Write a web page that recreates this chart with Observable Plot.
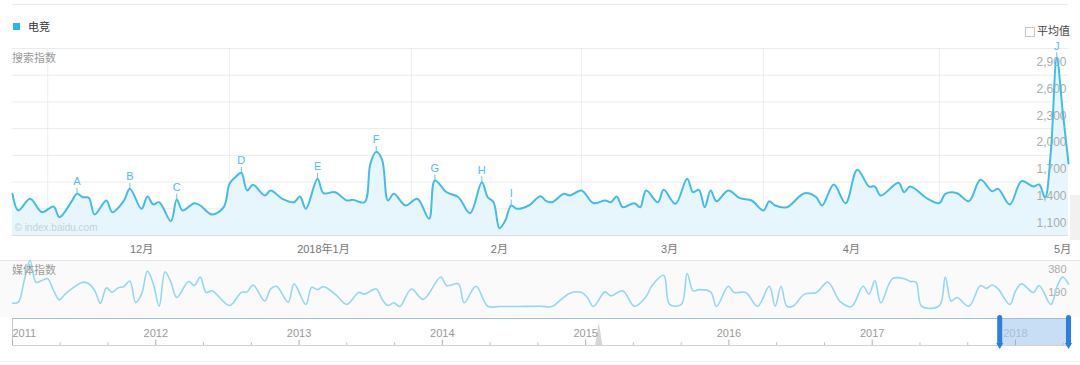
<!DOCTYPE html>
<html><head><meta charset="utf-8">
<script src="https://cdn.jsdelivr.net/npm/d3@7"></script>
<script src="https://cdn.jsdelivr.net/npm/@observablehq/plot@0.6"></script>
<style>
body{margin:0;background:#fff;}
#root{position:relative;width:1080px;height:365px;overflow:hidden;font-family:'Liberation Sans','Noto Sans CJK SC',sans-serif;}
.abs{position:absolute;}
#root svg{position:absolute;left:0;}
.lbl{position:absolute;font-size:11px;line-height:16px;white-space:nowrap;}
</style></head><body>
<div id="root">
  <div class="abs" style="left:12px;top:4px;width:1056px;height:1px;background:#e9e9e9"></div>
  <div class="abs" style="left:13px;top:23px;width:7px;height:7px;background:#2cb6ec"></div>
  <div class="lbl" style="left:28px;top:19px;color:#333">电竞</div>
  <div class="abs" style="left:1025px;top:27px;width:8px;height:8px;border:1px solid #c8c8c8"></div>
  <div class="lbl" style="left:1037px;top:23px;color:#444">平均值</div>
  <div class="abs" style="left:1070px;top:195px;width:10px;height:45px;background:#f1f1f1"></div>
  <div class="abs" style="left:0;top:260px;width:1080px;height:56px;background:#fafafa;border-top:1px solid #e6e6e6"></div>
  <div class="abs" style="left:0;top:361px;width:1080px;height:1px;background:#eef2f7"></div>
  <div id="main"></div>
  <div id="media"></div>
  <div id="nav"></div>
  <div class="lbl" style="left:12px;top:50px;color:#9a9a9a">搜索指数</div>
  <div class="lbl" style="left:12px;top:262px;color:#9a9a9a">媒体指数</div>
</div>
<script>
// ---- data (day 0 = 2017-11-09) ----
const searchDays = [0,1,3,5,7,8,10,11,12,13,14,16,17,19,20,22,23,24,25,27,28,29,31,32,34,36,37,38,39,40,41,43,44,46,48,49,50,52,53,55,57,58,60,61,62,63,64,65,67,69,71,72,74,76,78,80,81,82,83,84,85,86,88,90,91,92,94,95,97,99,101,102,103,104,106,107,108,110,111,113,115,116,117,118,119,120,122,124,126,128,129,130,132,135,137,138,140,142,144,146,147,148,151,152,153,156,158,159,161,163,165,167,168,170,172,174,175,176,177,178,179,180];
const searchValues = [1268,1081,1212,1062,1126,1006,1174,1268,1230,1223,
1036,1193,1062,1193,1324,1100,1238,1148,1174,961,
1204,1081,1163,1137,1036,1118,1381,1455,1504,1305,
1369,1249,1305,1212,1174,1238,1100,1437,1275,1286,
1193,1201,1174,1605,1740,1650,1193,1268,1137,1212,
988,1418,1286,1230,1050,1399,1230,1174,882,968,
1137,1100,1137,1241,1185,1174,1268,1249,1305,1163,
1193,1174,1238,1118,1163,1118,1305,1174,1313,1156,
1437,1286,1313,1118,1305,1185,1305,1219,1193,1081,
1185,1137,1118,1275,1230,1137,1373,1163,1538,1350,
1350,1249,1392,1286,1350,1212,1163,1268,1275,1185,
1425,1297,1324,1148,1410,1350,1373,1226,1750,2790,
2200,1609];

const mediaDays = [0,1,2,3,4,5,6,7,8,9,12,13,14,15,16,17,18,19,20,21,22,23,24,25,26,27,28,30,31,32,33,34,37,39,40,41,43,44,45,47,48,50,51,52,53,55,57,59,60,62,63,64,65,66,68,70,73,74,76,77,79,81,83,86,90,92,93,95,97,98,99,101,102,104,106,108,109,111,112,114,115,116,117,119,120,122,123,125,127,129,130,131,132,133,135,137,139,141,143,145,146,147,148,150,152,153,154,155,158,159,160,161,163,165,166,167,168,170,171,172,174,175,177,178,179,180];
const mediaValues = [27,36,215,380,200,215,229,132,55,105,
201,188,132,27,154,118,154,165,211,33,
102,292,187,2,287,201,74,207,173,244,
116,130,8,116,121,178,45,145,167,36,
187,17,159,139,164,102,17,116,102,145,
59,8,31,0,145,59,244,173,187,31,
167,2,0,0,2,0,36,110,116,74,
0,121,88,130,2,82,173,258,17,17,
273,130,139,121,0,167,116,116,2,167,
2,167,2,2,102,116,201,45,0,167,
102,215,31,230,230,207,201,0,8,244,
45,74,2,173,150,178,145,17,130,187,
116,173,17,159,244,185];

const letterNames = ["A","B","C","D","E","F","G","H","I","J"];
const letterDays = [11,20,28,39,52,62,72,80,85,178];

const monthTickDays = [22,53,83,112,143,179];
const monthLabels = ["12月","2018年1月","2月","3月","4月","5月"];
const gridDays = [6,37,68,97,128,158];
const yGridValues = [2900,2600,2300,2000,1700,1400,1100,800];
const yLabelValues = [2900,2600,2300,2000,1700,1400,1100];
const mediaLabelValues = [380,190];

const navYears = [2011,2012,2013,2014,2015,2016,2017,2018];
const navMinor = [2011.333,2011.667,2012.333,2012.667,2013.333,2013.667,2014.333,2014.667,2015.333,2015.667,2016.333,2016.667,2017.333,2017.667,2018.333];
const navT = [2011,2015.07,2015.095,2015.12,2018.37];
const navV = [0,0,0.85,0,0];
const selection = [2017.89, 2018.37];

// ---- build tables ----
const search = searchDays.map((d,i)=>({day:d, v:searchValues[i]}));
const media = mediaDays.map((d,i)=>({day:d, v:mediaValues[i]}));
const letters = letterNames.map((n,i)=>({name:n, day:letterDays[i], v:searchValues[searchDays.indexOf(letterDays[i])]}));
const months = monthTickDays.map((d,i)=>({day:d, label:monthLabels[i]}));
const nav = navT.map((t,i)=>({t, v:navV[i]}));
const fmt = d3.format(",");
const FONT = "'Liberation Sans','Noto Sans CJK SC',sans-serif";
const line = "#41bdea";

const main = Plot.plot({
  width:1080, height:258, marginTop:48, marginBottom:23, marginLeft:12, marginRight:12,
  x:{type:"linear", domain:[0,180], axis:null},
  y:{domain:[800,2900], axis:null},
  style:{background:"transparent", fontFamily:FONT, overflow:"visible"},
  marks:[
    Plot.ruleX(gridDays, {stroke:"#efefef"}),
    Plot.ruleY(yGridValues, {stroke:"#ececec"}),
    Plot.areaY(search, {x:"day", y1:800, y2:"v", curve:"catmull-rom", fill:"#e7f6fd"}),
    Plot.ruleY([800], {stroke:"#dcdcdc"}),
    Plot.text(["© index.baidu.com"], {frameAnchor:"bottom-left", dx:2, dy:-5, fill:"#c6d0d9", fontSize:10, textAnchor:"start"}),
    Plot.text(yLabelValues, {x:180, y:d=>d, text:d=>fmt(d), textAnchor:"end", dx:-2, dy:14, fill:"#ababab", fontSize:12}),
    Plot.lineY(search, {x:"day", y:"v", curve:"catmull-rom", stroke:line, strokeWidth:2}),
    Plot.ruleX(letters, {x:"day", y1:"v", y2:d=>d.v+60, stroke:"#5cc6ec"}),
    Plot.text(letters, {x:"day", y:"v", text:"name", dy:-12, fill:"#4fbfe8", fontSize:11}),
    Plot.text(months, {x:"day", y:800, text:"label", dy:14, fill:"#777", fontSize:11})
  ]
});
main.style.top = "0px";
document.getElementById("main").appendChild(main);

const med = Plot.plot({
  width:1080, height:56, marginTop:2, marginBottom:8, marginLeft:12, marginRight:12,
  x:{type:"linear", domain:[0,180], axis:null},
  y:{domain:[0,380], axis:null},
  style:{background:"transparent", fontFamily:FONT, overflow:"visible"},
  marks:[
    Plot.text(mediaLabelValues, {x:180, y:d=>d, text:d=>String(d), textAnchor:"end", dx:-2, dy:9, fill:"#ababab", fontSize:11}),
    Plot.lineY(media, {x:"day", y:"v", curve:"catmull-rom", stroke:"#94d8f0", strokeWidth:1.6})
  ]
});
med.style.top = "258px";
document.getElementById("media").appendChild(med);

const nv = Plot.plot({
  width:1080, height:51, marginTop:4, marginBottom:20, marginLeft:12, marginRight:12,
  x:{type:"linear", domain:[2011,2018.37], axis:null},
  y:{domain:[0,1], axis:null},
  style:{background:"transparent", fontFamily:FONT, overflow:"visible"},
  marks:[
    Plot.rect([selection], {x1:d=>d[0], x2:d=>d[1], y1:0, y2:1, fill:"#c8def5"}),
    Plot.areaY(nav, {x:"t", y:"v", fill:"#d6d6d6"}),
    Plot.ruleY([1], {stroke:"#9cbde3"}),
    Plot.ruleX([2011], {y1:0, y2:1, stroke:"#c8c8c8"}),
    Plot.ruleY([0], {stroke:"#d2d2d2"}),
    Plot.ruleX(navYears, {y1:0, y2:0.2, stroke:"#b0b0b0"}),
    Plot.ruleX(navMinor, {y1:0, y2:0.1, stroke:"#c0c0c0"}),
    Plot.text(navYears.slice(0,1), {x:d=>d, y:0.43, text:d=>String(d), textAnchor:"start", fill:"#9a9a9a", fontSize:11}),
    Plot.text(navYears.slice(1), {x:d=>d, y:0.43, text:d=>String(d), fill:d=>d===2018?"#a9bdd6":"#9a9a9a", fontSize:11}),
    Plot.ruleX(selection, {x:d=>d, y1:0.06, y2:1.02, stroke:"#2a7fe6", strokeWidth:5, strokeLinecap:"round"}),
    Plot.dot(selection, {x:d=>d, y:0.02, symbol:"triangle", rotate:180, r:2.6, fill:"#2a7fe6"})
  ]
});
nv.style.top = "314px";
document.getElementById("nav").appendChild(nv);
</script>
</body></html>
